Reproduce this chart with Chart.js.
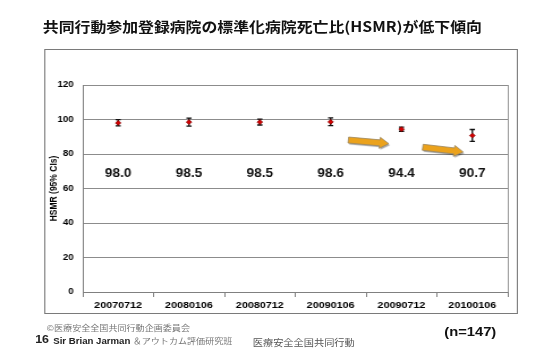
<!DOCTYPE html>
<html>
<head>
<meta charset="utf-8">
<script src="https://cdn.jsdelivr.net/npm/chart.js@4/dist/chart.umd.min.js"></script>
<style>
  body { margin: 0; background: #fff; }
  #stage { position: absolute; left: 0; top: 0; width: 480px; height: 360px; transform: scaleX(1.13333); transform-origin: 0 0; }
  #stage canvas { position: absolute; left: 0; top: 0; }
  .t { position: absolute; white-space: nowrap; line-height: 1; }
  #title { left: 0; width: 463px; top: 16px; text-align: center; font: bold 14px "Noto Sans CJK JP", sans-serif; color: #111; }
  #copy { left: 41px; top: 322px; font: 8px "Noto Sans CJK JP", sans-serif; color: #777; }
  #page { left: 31px; top: 333px; font: bold 11px "Liberation Sans", Arial, sans-serif; color: #222; }
  #sir { left: 47px; top: 335px; font: bold 8.5px "Liberation Sans", Arial, sans-serif; color: #222; }
  #sir span { font: 8px "Noto Sans CJK JP", sans-serif; color: #777; margin-left: 2px; }
  #org { left: 223px; top: 336px; font: 9px "Noto Sans CJK JP", sans-serif; color: #555; }
  #n { left: 392px; top: 324px; font: bold 13px "Liberation Sans", Arial, sans-serif; color: #111; }
</style>
</head>
<body>
<div id="stage">
  <canvas id="hsmrChart" width="480" height="360"></canvas>
  <div class="t" id="title">共同行動参加登録病院の標準化病院死亡比(HSMR)が低下傾向</div>
  <div class="t" id="copy">©医療安全全国共同行動企画委員会</div>
  <div class="t" id="page">16</div>
  <div class="t" id="sir">Sir Brian Jarman<span>＆アウトカム評価研究班</span></div>
  <div class="t" id="org">医療安全全国共同行動</div>
  <div class="t" id="n">(n=147)</div>
</div>
<script>
var categories = ['20070712', '20080106', '20080712', '20090106', '20090712', '20100106'];
var hsmr = [98.0, 98.5, 98.5, 98.6, 94.4, 90.7];
var ciLow = [96.3, 96.2, 96.8, 96.4, 93.2, 87.3];
var ciHigh = [99.9, 100.8, 100.2, 100.9, 95.6, 94.2];

// arrows in scale units: [fromIndex, fromValue, toIndex, toValue]
var arrows = [[3.25, 88.1, 3.82, 86.0], [4.30, 83.9, 4.87, 81.2]];
var labelLevel = 68.5;

var tickFont = { family: '"Liberation Sans", Arial, sans-serif', weight: 'bold' };

function drawArrow(ctx, x1, y1, x2, y2) {
    var dx = x2 - x1, dy = y2 - y1, len = Math.hypot(dx, dy);
    var ux = dx / len, uy = dy / len, px = -uy, py = ux;
    var shaft = 3, head = 5.5, headLen = 8;
    var bx = x2 - ux * headLen, by = y2 - uy * headLen;
    ctx.save();
    ctx.beginPath();
    ctx.moveTo(x1 + px * shaft, y1 + py * shaft);
    ctx.lineTo(bx + px * shaft, by + py * shaft);
    ctx.lineTo(bx + px * head, by + py * head);
    ctx.lineTo(x2, y2);
    ctx.lineTo(bx - px * head, by - py * head);
    ctx.lineTo(bx - px * shaft, by - py * shaft);
    ctx.lineTo(x1 - px * shaft, y1 - py * shaft);
    ctx.closePath();
    ctx.shadowColor = 'rgba(0,0,0,0.35)';
    ctx.shadowOffsetX = 1;
    ctx.shadowOffsetY = 1.5;
    ctx.shadowBlur = 1;
    ctx.fillStyle = '#eba21c';
    ctx.fill();
    ctx.shadowColor = 'transparent';
    ctx.strokeStyle = '#9a8660';
    ctx.lineWidth = 0.8;
    ctx.stroke();
    ctx.restore();
}

var framePlugin = {
    id: 'frame',
    beforeDraw: function (chart) {
        var ctx = chart.ctx;
        ctx.save();
        ctx.strokeStyle = '#7a7a7a';
        ctx.lineWidth = 1;
        ctx.strokeRect(39.5, 49.5, 417, 264);
        ctx.restore();
    }
};

var errorBarPlugin = {
    id: 'errorBars',
    beforeDatasetsDraw: function (chart) {
        var ctx = chart.ctx, x = chart.scales.x, y = chart.scales.y;
        ctx.save();
        ctx.strokeStyle = '#111';
        ctx.lineWidth = 1.3;
        for (var i = 0; i < hsmr.length; i++) {
            var px = x.getPixelForValue(i);
            var lo = y.getPixelForValue(ciLow[i]);
            var hi = y.getPixelForValue(ciHigh[i]);
            ctx.beginPath();
            ctx.moveTo(px, lo); ctx.lineTo(px, hi);
            ctx.moveTo(px - 2.3, lo); ctx.lineTo(px + 2.3, lo);
            ctx.moveTo(px - 2.3, hi); ctx.lineTo(px + 2.3, hi);
            ctx.stroke();
        }
        ctx.restore();
    }
};

var extrasPlugin = {
    id: 'extras',
    afterDatasetsDraw: function (chart) {
        var ctx = chart.ctx, x = chart.scales.x, y = chart.scales.y, a = chart.chartArea;
        ctx.save();
        // right border of plot area
        ctx.strokeStyle = '#9a9a9a';
        ctx.lineWidth = 1;
        ctx.beginPath();
        ctx.moveTo(Math.round(a.right) + 0.5, a.top);
        ctx.lineTo(Math.round(a.right) + 0.5, a.bottom);
        ctx.stroke();
        // value labels
        ctx.fillStyle = '#111';
        ctx.font = 'bold 12px "Liberation Sans", Arial, sans-serif';
        ctx.textAlign = 'center';
        ctx.textBaseline = 'middle';
        for (var i = 0; i < hsmr.length; i++) {
            ctx.fillText(hsmr[i].toFixed(1), x.getPixelForValue(i), y.getPixelForValue(labelLevel));
        }
        ctx.restore();
        arrows.forEach(function (r) {
            drawArrow(ctx, x.getPixelForValue(r[0]), y.getPixelForValue(r[1]),
                x.getPixelForValue(r[2]), y.getPixelForValue(r[3]));
        });
    }
};

var ctx = document.getElementById('hsmrChart').getContext('2d');
var chart = new Chart(ctx, {
    type: 'line',
    data: {
        labels: categories,
        datasets: [{
            label: 'HSMR',
            data: hsmr,
            showLine: false,
            pointStyle: 'rectRot',
            pointRadius: 2.4,
            backgroundColor: '#d40000',
            borderColor: '#8b0000',
            borderWidth: 0.8
        }]
    },
    options: {
        responsive: false,
        animation: false,
        devicePixelRatio: 1,
        layout: { padding: { left: 39, right: 32, top: 85, bottom: 0 } },
        plugins: { legend: { display: false }, tooltip: { enabled: false } },
        scales: {
            x: {
                offset: true,
                grid: { offset: true, drawOnChartArea: false, drawTicks: true, tickLength: 5, color: '#808080' },
                border: { color: '#808080' },
                ticks: { padding: 3, color: '#000', maxRotation: 0, autoSkip: false,
                    font: Object.assign({ size: 9.5 }, tickFont) },
                afterFit: function (s) { s.height = 68; }
            },
            y: {
                min: 0,
                max: 120,
                grid: { color: '#8c8c8c', drawTicks: false },
                border: { color: '#808080' },
                ticks: { stepSize: 20, padding: 8, color: '#000',
                    font: Object.assign({ size: 8.5 }, tickFont) },
                title: { display: true, text: 'HSMR (95% CIs)', color: '#000',
                    font: Object.assign({ size: 8.5 }, tickFont), padding: { top: 4, bottom: 0 } },
                afterFit: function (s) { s.width = 34; }
            }
        }
    },
    plugins: [framePlugin, errorBarPlugin, extrasPlugin]
});
</script>
</body>
</html>
